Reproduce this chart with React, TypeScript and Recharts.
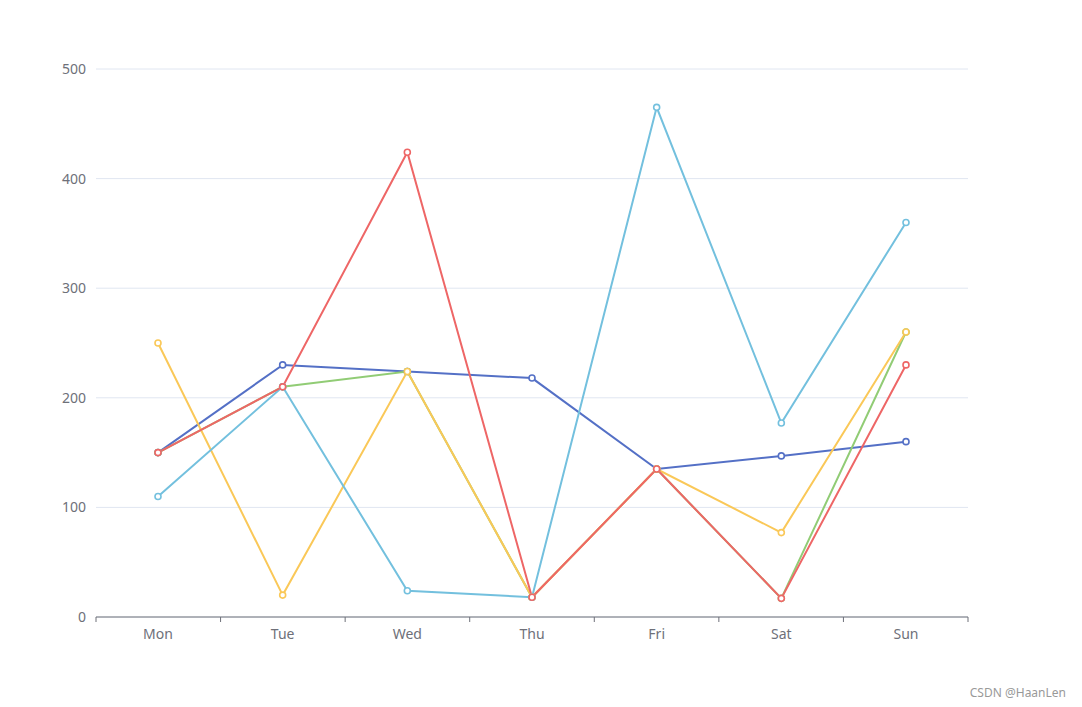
import React from 'react';
import { LineChart, Line, XAxis, YAxis, CartesianGrid } from 'recharts';

const days = ['Mon', 'Tue', 'Wed', 'Thu', 'Fri', 'Sat', 'Sun'];
const blueValues = [150, 230, 224, 218, 135, 147, 160];
const greenValues = [150, 210, 224, 18, 135, 17, 260];
const yellowValues = [250, 20, 224, 18, 135, 77, 260];
const redValues = [150, 210, 424, 18, 135, 17, 230];
const cyanValues = [110, 210, 24, 18, 465, 177, 360];
const yTicks = [0, 100, 200, 300, 400, 500];
const bandEdges = [0, 1, 2, 3, 4, 5, 6, 7];

const data = days.map((d, i) => ({
  day: d,
  slot: i + 0.5,
  blue: blueValues[i],
  green: greenValues[i],
  yellow: yellowValues[i],
  red: redValues[i],
  cyan: cyanValues[i],
}));

const series = [
  { key: 'blue', color: '#5470c6' },
  { key: 'green', color: '#91cc75' },
  { key: 'yellow', color: '#fac858' },
  { key: 'cyan', color: '#73c0de' },
  { key: 'red', color: '#ee6666' },
];

const font = '"Noto Sans", "DejaVu Sans", sans-serif';

export default function App() {
  return (
    <div style={{ position: 'absolute', left: 0, top: 0, width: 1082, height: 707, background: '#fff', fontFamily: font }}>
      <LineChart
        width={1082}
        height={707}
        data={data}
        margin={{ top: 69, right: 114, bottom: 60, left: 26 }}
      >
        <CartesianGrid vertical={false} stroke="#E0E6F1" strokeWidth={1} xAxisId="axisLabel" />
        <XAxis
          xAxisId="axisLabel"
          dataKey="day"
          height={29}
          axisLine={false}
          tickLine={false}
          tick={{ fill: '#6E7079', fontSize: 14, fontFamily: font }}
          tickSize={5}
          tickMargin={6}
          padding={{ left: 62, right: 62 }}
          interval={0}
        />
        <XAxis
          xAxisId="axisEdge"
          dataKey="slot"
          type="number"
          domain={[0, 7]}
          ticks={bandEdges}
          tickFormatter={() => ''}
          height={1}
          axisLine={{ stroke: '#6E7079' }}
          tickLine={{ stroke: '#6E7079' }}
          tickSize={5}
          interval={0}
          allowDataOverflow
        />
        <YAxis
          width={70}
          domain={[0, 500]}
          ticks={yTicks}
          axisLine={false}
          tickLine={false}
          tick={{ fill: '#6E7079', fontSize: 14, fontFamily: font }}
          tickMargin={4}
        />
        {series.map((s) => (
          <Line
            key={s.key}
            xAxisId="axisLabel"
            type="linear"
            dataKey={s.key}
            stroke={s.color}
            strokeWidth={2}
            dot={{ r: 3, stroke: s.color, strokeWidth: 1.6, fill: '#fff' }}
            activeDot={false}
            isAnimationActive={false}
          />
        ))}
      </LineChart>
      <div
        style={{
          position: 'absolute',
          right: 16,
          top: 684,
          fontSize: 12,
          color: '#999',
          fontFamily: font,
        }}
      >
        CSDN @HaanLen
      </div>
    </div>
  );
}
